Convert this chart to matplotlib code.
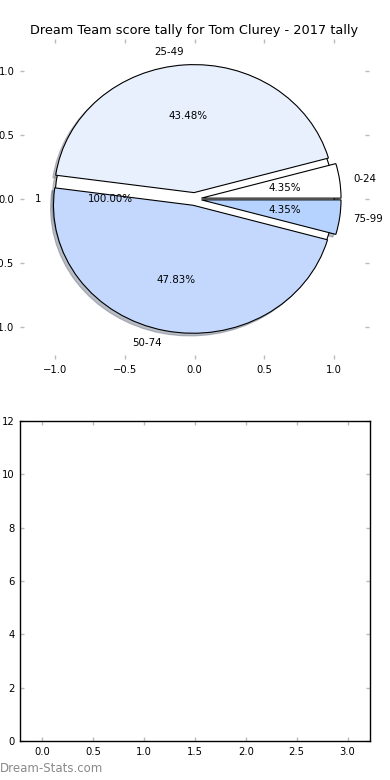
import matplotlib
matplotlib.use("Agg")
import matplotlib.pyplot as plt

# --- Data --------------------------------------------------------------------
ranges = ["0-24", "25-49", "50-74", "75-99"]
counts = [1, 10, 11, 1]
slice_colors = ["#ffffff", "#e9f0fd", "#c4d8fe", "#b5d3fe"]
explode = [0.05, 0.05, 0.05, 0.05]

# a leftover single-value pie sits behind the real one
total_values = [1]
total_labels = ["1"]

pie_ticks = [-1.0, -0.5, 0.0, 0.5, 1.0]
bar_xticks = [0.0, 0.5, 1.0, 1.5, 2.0, 2.5, 3.0]
bar_yticks = [0, 2, 4, 6, 8, 10, 12]

TITLE = "Dream Team score tally for Tom Clurey - 2017 tally"

# --- Figure ------------------------------------------------------------------
fig = plt.figure(figsize=(3.9, 7.8), dpi=100)
ax_pie = fig.add_axes([20 / 390, 421 / 780, 349 / 390, 320 / 780])
ax_bar = fig.add_axes([20 / 390, 39 / 780, 350 / 390, 320 / 780])

txt = dict(fontsize=7.4)
shadow = dict(ox=-0.015, oy=-0.015, shade=0.5, alpha=0.45)
wedge = dict(edgecolor="black", linewidth=0.8)
ax_pie.pie(total_values, labels=total_labels, autopct="%1.2f%%",
           colors=["white"], shadow=shadow, frame=True,
           wedgeprops=wedge, textprops=txt)
ax_pie.pie(counts, labels=ranges, autopct="%1.2f%%", colors=slice_colors,
           explode=explode, shadow=shadow, frame=True,
           wedgeprops=wedge, textprops=txt)
ax_pie.set_aspect("auto")
ax_pie.set_xlim(-1.25, 1.25)
ax_pie.set_ylim(-1.25, 1.25)
ax_pie.set_xticks(pie_ticks)
ax_pie.set_yticks(pie_ticks)
for s in ax_pie.spines.values():
    s.set_visible(False)
ax_pie.set_title(TITLE, fontsize=9.3, pad=3.5)

ax_bar.set_xlim(-0.22, 3.22)
ax_bar.set_ylim(0, 12)
ax_bar.set_xticks(bar_xticks)
ax_bar.set_yticks(bar_yticks)
for s in ax_bar.spines.values():
    s.set_linewidth(1.0)

for ax in (ax_pie, ax_bar):
    ax.tick_params(direction="in", length=3, width=1, color="#bbbbbb",
                   labelsize=7.2, top=True, right=True, pad=4)

fig.text(0.0, 0.007, "Dream-Stats.com", fontsize=8.5, color="#8a8a8a",
         ha="left", va="bottom")

fig.savefig("out.png", dpi=100)
